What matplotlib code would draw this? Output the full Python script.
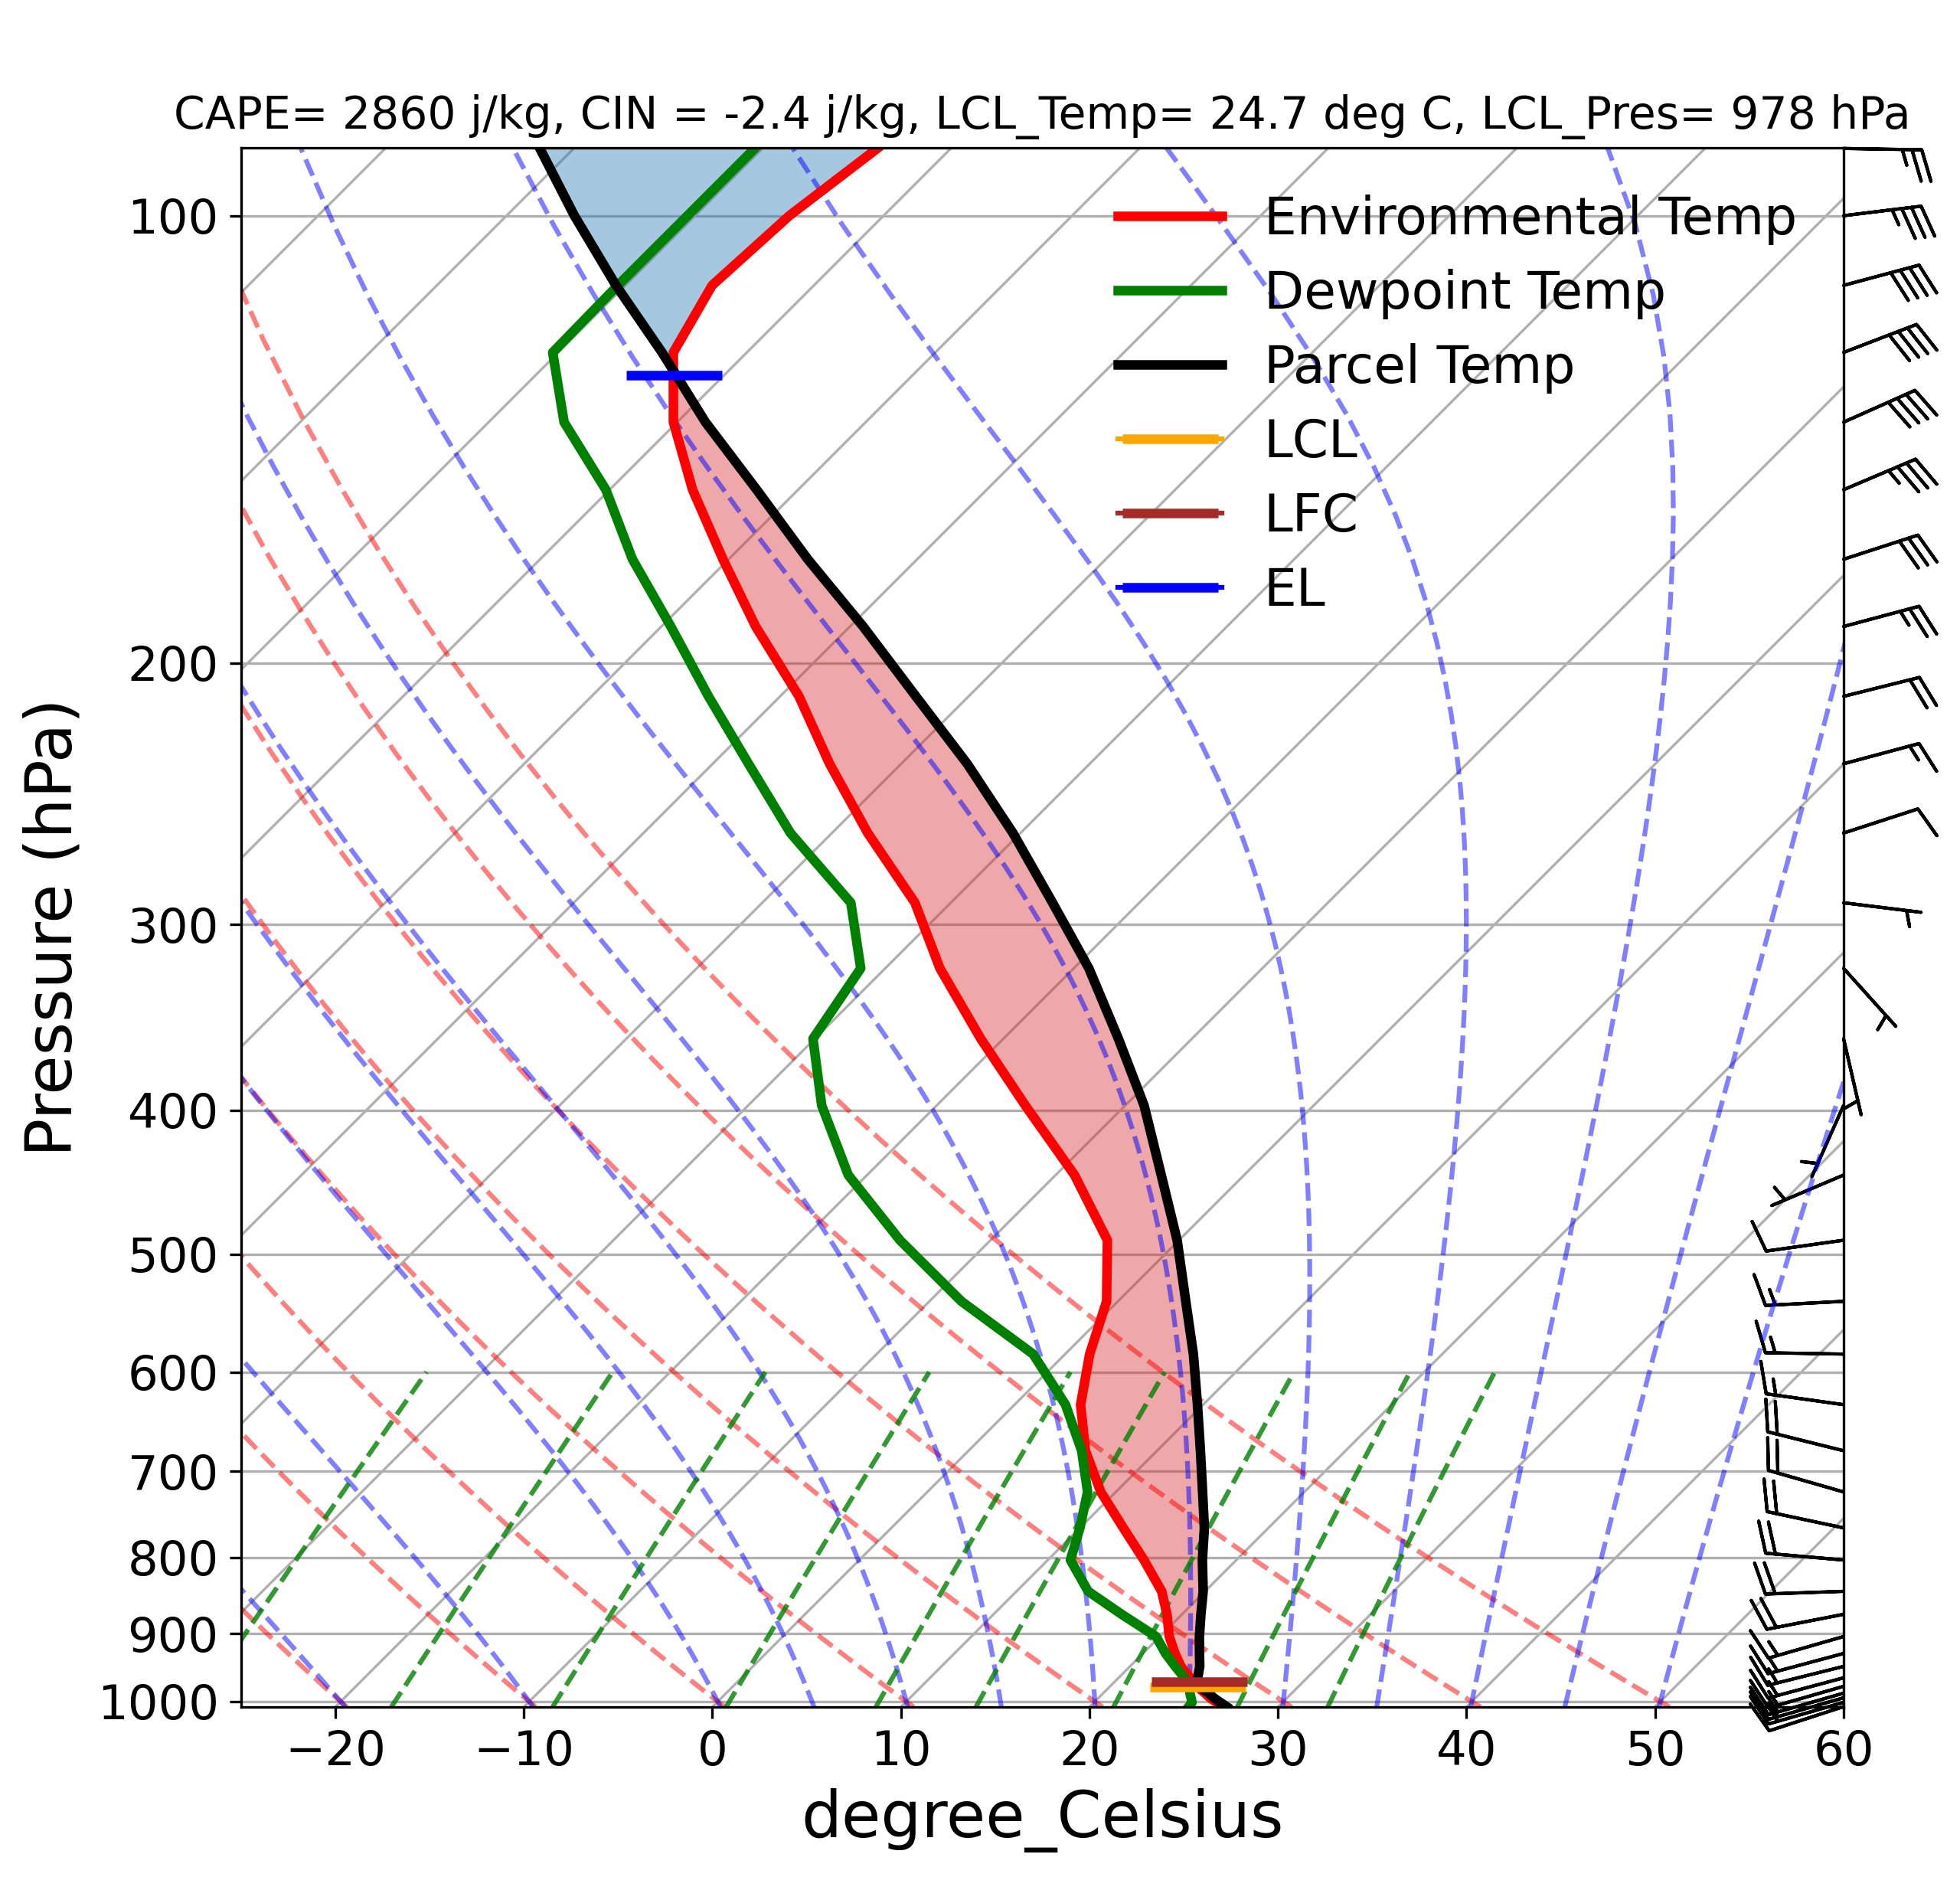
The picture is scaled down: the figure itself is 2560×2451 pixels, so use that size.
import numpy as np
import matplotlib
matplotlib.use('Agg')
import matplotlib.pyplot as plt
from matplotlib import transforms
from matplotlib.collections import LineCollection
from matplotlib.ticker import NullLocator, ScalarFormatter

# sounding levels (hPa), surface first
pressure = [1007.8, 1001.2, 994.1, 987.0, 976.6, 963.8, 946.9, 928.1, 904.1, 873.5,
            842.9, 803.0, 764.0, 722.6, 677.9, 631.2, 583.6, 537.8, 489.2, 442.2,
            397.0, 358.0, 321.0, 290.0, 260.3, 233.8, 210.6, 189.0, 170.3, 152.9,
            137.7, 123.6, 111.4, 100.0, 90.1]
temperature = [27.2, 26.5, 25.9, 25.4, 24.6, 23.8, 22.7, 21.7, 20.5, 19.2,
               17.7, 15.1, 12.3, 9.2, 6.2, 3.5, 1.3, -0.6, -3.8, -9.0,
               -15.3, -21.2, -27.1, -31.9, -38.1, -43.8, -49.0, -55.0, -60.3, -65.6,
               -70.2, -73.9, -75.4, -75.0, -73.9]
dewpoint = [25.25, 25.2, 24.9, 24.6, 24.2, 23.5, 22.4, 21.2, 19.8, 16.8,
            13.8, 11.2, 10.0, 8.5, 6.0, 2.7, -1.7, -8.3, -14.8, -21.0,
            -26.1, -30.1, -31.3, -35.3, -42.2, -48.1, -53.8, -59.5, -65.1, -70.2,
            -76.0, -80.3, -80.4, -80.4, -80.4]
parcel = [27.25, 26.7, 26.1, 25.6, 24.65, 24.2, 23.7, 23.0, 22.1, 21.0,
          19.9, 18.2, 16.6, 14.6, 12.3, 9.7, 6.8, 3.6, -0.1, -4.4,
          -9.0, -13.9, -19.2, -24.6, -30.4, -36.5, -42.8, -49.3, -55.8, -62.2,
          -68.5, -74.5, -80.5, -86.4, -91.8]
wind_speed = [10, 15, 15, 15, 15, 15, 15, 15, 15, 20,
              20, 20, 20, 20, 20, 15, 15, 15, 10, 5,
              5, 5, 5, 5, 10, 15, 20, 25, 30, 35,
              40, 40, 40, 35, 25]
wind_dir = [252, 254, 254, 254, 254, 255, 256, 255, 254, 259,
            268, 275, 282, 286, 284, 278, 271, 267, 262, 247,
            204, 167, 138, 97, 72, 75, 76, 75, 72, 67,
            66, 69, 75, 83, 91]

# parcel levels
lcl_p, lcl_t = 978.0, 24.7
lfc_p, lfc_t = 970.0, 24.5
el_p, el_t = 128.0, -72.7

# background lines
dry_t0 = [-40, -30, -20, -10, 0, 10, 20, 30, 40, 50]
moist_t0 = [-40, -30, -20, -10, 0, 5, 10, 15, 20, 25, 30, 35, 40, 45, 50]
mixing_w = [0.0004, 0.001, 0.002, 0.004, 0.007, 0.01, 0.016, 0.024, 0.032]

p_bottom, p_top = 1008.3, 90.0

title = ('CAPE= 2860 j/kg, CIN = -2.4 j/kg, LCL_Temp= 24.7 deg C, '
         'LCL_Pres= 978 hPa')

Rd, Lv, Cp, eps = 287.04749, 2.50084e6, 1004.6662, 0.6219569


def sat_mixing(p, t):
    es = 6.112 * np.exp(17.67 * (t - 273.15) / (t - 29.65))
    return eps * es / (p - es)


def moist_dtdp(p, t):
    rs = sat_mixing(p, t)
    frac = (Rd * t + Lv * rs) / (Cp + Lv * Lv * rs * eps / (Rd * t * t))
    return frac / p


def moist_lapse(p_levels, t0, p0=1000.0):
    # RK4 from p0 along p_levels (monotonic)
    t = np.asarray(t0, float) + 273.15
    out = [t.copy()]
    p_prev = p0
    for p in p_levels:
        n = max(int(abs(p - p_prev) / 2.0), 1)
        h = (p - p_prev) / n
        pp = p_prev
        for _ in range(n):
            k1 = moist_dtdp(pp, t)
            k2 = moist_dtdp(pp + h / 2, t + h / 2 * k1)
            k3 = moist_dtdp(pp + h / 2, t + h / 2 * k2)
            k4 = moist_dtdp(pp + h, t + h * k3)
            t = t + h / 6 * (k1 + 2 * k2 + 2 * k3 + k4)
            pp += h
        out.append(t.copy())
        p_prev = p
    return np.array(out[1:]) - 273.15


fig = plt.figure(figsize=(2560 / 300, 2451 / 300), dpi=300)
pos = [0.1230, 0.0906, 0.8176, 0.8307]
ax = fig.add_axes(pos)
ax.set_yscale('log')
ax.set_xlim(-25, 60)
ax.set_ylim(p_bottom, p_top)
ax.set_autoscale_on(False)

# skew so that isotherms run at 45 degrees on screen
w_in = pos[2] * fig.get_figwidth()
h_in = pos[3] * fig.get_figheight()
skew_deg = np.degrees(np.arctan(h_in / w_in))
skew = ax.transScale + (ax.transLimits + transforms.Affine2D().skew_deg(skew_deg, 0)) + ax.transAxes

# isotherm grid
iso = [[(t, p_bottom), (t, p_top)] for t in range(-120, 61, 10)]
ax.add_collection(LineCollection(iso, colors='#b0b0b0', linewidths=0.8, transform=skew, zorder=0.5),
                  autolim=False)
ax.grid(True, axis='y', color='#b0b0b0', linewidth=0.8)
ax.set_axisbelow(True)

# dry adiabats
p_line = np.linspace(p_bottom, p_top, 60)
dry = [np.column_stack(((t0 + 273.15) * (p_line / 1000.0) ** 0.2857 - 273.15, p_line)) for t0 in dry_t0]
ax.add_collection(LineCollection(dry, colors='r', linestyles='dashed', alpha=0.5, linewidths=1.5,
                                 transform=skew), autolim=False)

# moist adiabats, integrated up and down from 1000 hPa
p_up = np.linspace(1000.0, p_top, 80)[1:]
t_up = moist_lapse(p_up, moist_t0)
t_down = moist_lapse([p_bottom], moist_t0)
moist = []
for i, t0 in enumerate(moist_t0):
    tt = np.concatenate(([t_down[0, i], t0], t_up[:, i]))
    pp = np.concatenate(([p_bottom, 1000.0], p_up))
    moist.append(np.column_stack((tt, pp)))
ax.add_collection(LineCollection(moist, colors='b', linestyles='dashed', alpha=0.5, linewidths=1.5,
                                 transform=skew), autolim=False)

# mixing ratio lines
p_mix = np.linspace(p_bottom, 600.0, 30)
mix = []
for w in mixing_w:
    e = p_mix * w / (eps + w)
    val = np.log(e / 6.112)
    td = 243.5 * val / (17.67 - val)
    mix.append(np.column_stack((td, p_mix)))
ax.add_collection(LineCollection(mix, colors='g', linestyles='dashed', alpha=0.8, linewidths=1.5,
                                 transform=skew), autolim=False)

# shading
p_arr = np.array(pressure)
t_arr = np.array(temperature)
tp_arr = np.array(parcel)
ax.fill_betweenx(p_arr, tp_arr, t_arr, where=tp_arr > t_arr, interpolate=True,
                 facecolor='tab:red', alpha=0.4, transform=skew)
ax.fill_betweenx(p_arr, tp_arr, t_arr, where=tp_arr < t_arr, interpolate=True,
                 facecolor='tab:blue', alpha=0.4, transform=skew)

ax.plot(temperature, pressure, color='r', linewidth=3, transform=skew, label='Environmental Temp')
ax.plot(dewpoint, pressure, color='g', linewidth=3, transform=skew, label='Dewpoint Temp')
ax.plot(parcel, pressure, color='k', linewidth=3, transform=skew, label='Parcel Temp')
ax.plot([lcl_t], [lcl_p], marker='_', color='orange', markersize=30, markeredgewidth=3,
        transform=skew, label='LCL')
ax.plot([lfc_t], [lfc_p], marker='_', color='brown', markersize=30, markeredgewidth=3,
        transform=skew, label='LFC')
ax.plot([el_t], [el_p], marker='_', color='blue', markersize=30, markeredgewidth=3,
        transform=skew, label='EL')

# wind barbs on the right edge
spd = np.array(wind_speed, float)
wd = np.radians(wind_dir)
u = -spd * np.sin(wd)
v = -spd * np.cos(wd)
barb_trans = transforms.blended_transform_factory(ax.transAxes, ax.transData)
ax.barbs(np.ones(len(pressure)), pressure, u, v, transform=barb_trans, clip_on=False, length=7)

ax.set_yticks(np.arange(100, 1001, 100))
ax.yaxis.set_major_formatter(ScalarFormatter())
ax.yaxis.set_minor_locator(NullLocator())
ax.set_xticks(np.arange(-20, 61, 10))
ax.tick_params(labelsize=15)
ax.set_ylabel('Pressure (hPa)', fontsize=20)
ax.set_xlabel('degree_Celsius', fontsize=20)
ax.set_title(title, fontsize=14)
ax.legend(loc='upper right', fontsize=16.3, frameon=False, labelspacing=0.455)

fig.savefig('out.png', dpi=300)
